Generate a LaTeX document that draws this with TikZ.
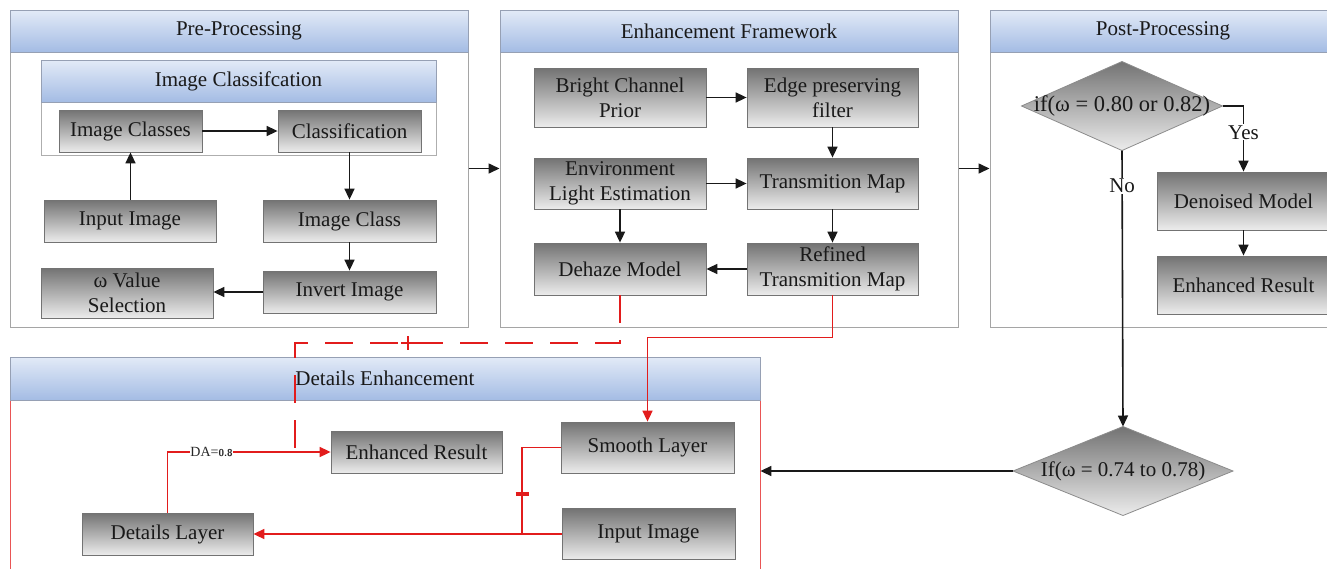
\documentclass[tikz,border=0pt]{standalone}
\usepackage{fontspec}
\setmainfont{Liberation Serif}
\usetikzlibrary{arrows.meta}
\definecolor{hdrtop}{RGB}{226,234,247}
\definecolor{hdrbot}{RGB}{164,188,228}
\definecolor{hdrline}{RGB}{150,160,180}
\definecolor{boxtop}{RGB}{115,115,115}
\definecolor{boxbot}{RGB}{236,236,236}
\definecolor{redline}{RGB}{226,28,28}
\definecolor{panline}{RGB}{165,165,165}
\begin{document}
\begin{tikzpicture}[x=1pt,y=-1pt,
  txt/.style={font=\fontsize{21}{25}\selectfont, text=black!90},
  box/.style={txt, draw=black!55, line width=0.8pt, top color=boxtop, bottom color=boxbot, align=center, inner sep=1pt},
  panel/.style={draw=panline, line width=1pt, fill=white, inner sep=0pt},
  header/.style={txt, draw=hdrline, line width=0.8pt, top color=hdrtop, bottom color=hdrbot, inner sep=0pt},
  dia/.style={draw=black!45, line width=0.8pt, top color=boxtop, bottom color=boxbot},
  arr/.style={draw=black!90, line width=1.6pt, -{Triangle[length=11pt,width=10pt]}},
  rline/.style={draw=redline, line width=1.6pt},
  rarr/.style={rline, -{Triangle[length=11pt,width=10pt]}},
  rdash/.style={rline, dash pattern=on 28pt off 17pt},
  lbl/.style={txt, fill=white, inner sep=1pt}]
\useasboundingbox (0,0) rectangle (1327,568);
\clip (0,0) rectangle (1327,568);
\fill[white] (0,0) rectangle (1327,568);

% ---------- Pre-Processing ----------
\node[panel, minimum width=458pt, minimum height=317pt] (pre) at (239,168.5) {};
\node[header, minimum width=458pt, minimum height=42pt] (preh) at (239,31) {Pre-Processing};
\node[panel, draw=panline!90, minimum width=395pt, minimum height=95pt] (icp) at (238.5,107.5) {};
\node[header, minimum width=395pt, minimum height=42pt] (icph) at (238.5,81) {Image Classifcation};
\node[box, minimum width=143pt, minimum height=42pt] (imgclasses) at (130.5,131) {Image Classes};
\node[box, minimum width=143pt, minimum height=42pt] (classif) at (349.5,131) {Classification};
\node[box, minimum width=172pt, minimum height=42pt] (inimg) at (130,221) {Input Image};
\node[box, minimum width=173pt, minimum height=42pt] (imgclass) at (349.5,221) {Image Class};
\node[box, minimum width=172pt, minimum height=50pt] (omega) at (127,293) {ω Value\\Selection};
\node[box, minimum width=173pt, minimum height=42pt] (invert) at (349.5,292) {Invert Image};
\draw[arr] (inimg.north -| imgclasses.south) -- (imgclasses.south);
\draw[arr] (imgclasses.east) -- (classif.west);
\draw[arr] (classif.south) -- (imgclass.north);
\draw[arr] (imgclass.south) -- (invert.north);
\draw[arr] (invert.west) -- (invert.west -| omega.east);

% ---------- Enhancement Framework ----------
\node[panel, minimum width=458pt, minimum height=317pt] (enh) at (729,168.5) {};
\node[header, minimum width=458pt, minimum height=42pt] (enhh) at (729,31) {Enhancement Framework};
\node[box, minimum width=172pt, minimum height=59pt] (bcp) at (620,97.5) {Bright Channel\\Prior};
\node[box, minimum width=171pt, minimum height=59pt] (epf) at (832.5,97.5) {Edge preserving\\filter};
\node[box, minimum width=172pt, minimum height=51pt] (ele) at (620,183.5) {Environment\\Light Estimation};
\node[box, minimum width=171pt, minimum height=51pt] (tm) at (832.5,183.5) {Transmition Map};
\node[box, minimum width=172pt, minimum height=52pt] (dehaze) at (620,269) {Dehaze Model};
\node[box, minimum width=171pt, minimum height=52pt] (refined) at (832.5,269) {Refined\\Transmition Map};
\draw[arr] (bcp.east) -- (epf.west);
\draw[arr] (epf.south) -- (tm.north);
\draw[arr] (ele.east) -- (tm.west);
\draw[arr] (ele.south) -- (dehaze.north);
\draw[arr] (tm.south) -- (refined.north);
\draw[arr] (refined.west) -- (dehaze.east);

% ---------- Post-Processing ----------
\node[panel, minimum width=346pt, minimum height=317pt] (post) at (1163,168.5) {};
\node[header, minimum width=346pt, minimum height=42pt] (posth) at (1163,31) {Post-Processing};
\path[dia] (1021.5,106) -- (1122,61.5) -- (1222.5,106) -- (1122,150.5) -- cycle;
\node[txt, font=\fontsize{22.5}{25}\selectfont, inner sep=0pt] (d1) at (1122,106) {if(ω = 0.80 or 0.82)};
\coordinate (d1e) at (1222.5,106);
\coordinate (d1s) at (1122,150.5);
\node[box, minimum width=173pt, minimum height=58pt] (denoised) at (1243.5,201) {Denoised Model};
\node[box, minimum width=173pt, minimum height=58pt] (enres) at (1243.5,285) {Enhanced Result};
\draw[arr] (d1e) -| (denoised.north) node[lbl, pos=0.70] {Yes};
\draw[arr] (denoised.south) -- (enres.north);

\draw[arr] (pre.east) -- (enh.west);
\draw[arr] (enh.east) -- (post.west);

% ---------- Details Enhancement ----------
\node[panel, draw=redline!75, line width=0.8pt, minimum width=750pt, minimum height=240pt] (det) at (385,477) {};
\node[header, minimum width=750pt, minimum height=43pt] (deth) at (385,378.5) {Details Enhancement};
\node[box, minimum width=173pt, minimum height=51pt] (smooth) at (647.5,447.5) {Smooth Layer};
\node[box, minimum width=171pt, minimum height=42pt] (enres2) at (416.5,452) {Enhanced Result};
\node[box, minimum width=171pt, minimum height=42pt] (detl) at (167.5,534) {Details Layer};
\node[box, minimum width=173pt, minimum height=51pt] (inimg2) at (648.5,534) {Input Image};

% diamond 2
\path[dia] (1013,471) -- (1123,426.5) -- (1233,471) -- (1123,515.5) -- cycle;
\node[txt, inner sep=0pt] (d2) at (1123,471) {If(ω = 0.74 to 0.78)};
\coordinate (d2n) at (1123,426.5);
\coordinate (d2w) at (1013,471);
\draw[arr] (d1s) -- (d2n) node[lbl, pos=0.127] {No};
\draw[arr] (d2w) -- (d2w -| det.east);

% red connectors
\coordinate (dashc) at (295,343);
\coordinate (dj) at (295,452);
\draw[rdash] (dehaze.south) |- (dashc) -- (dj);
\draw[redline, line width=1.6pt] (408,336) -- (408,350) (401,343) -- (415,343);
\draw[rarr] (refined.south) -- ++(0,42) -| (smooth.north);
\coordinate (sj) at (522,534);
\draw[rline] (smooth.west) -| (sj);
\draw[redline, line width=4pt] (515.5,494) -- (528.5,494);
\draw[rarr] (inimg2.west) -- (detl.east);
\draw[rarr] (detl.north) |- (enres2.west)
  node[pos=0.635, fill=white, inner sep=0.5pt, text=black!85, font=\fontsize{14}{14}\selectfont] {DA=\textsf{\bfseries\fontsize{10}{10}\selectfont 0.8}};
\end{tikzpicture}
\end{document}
